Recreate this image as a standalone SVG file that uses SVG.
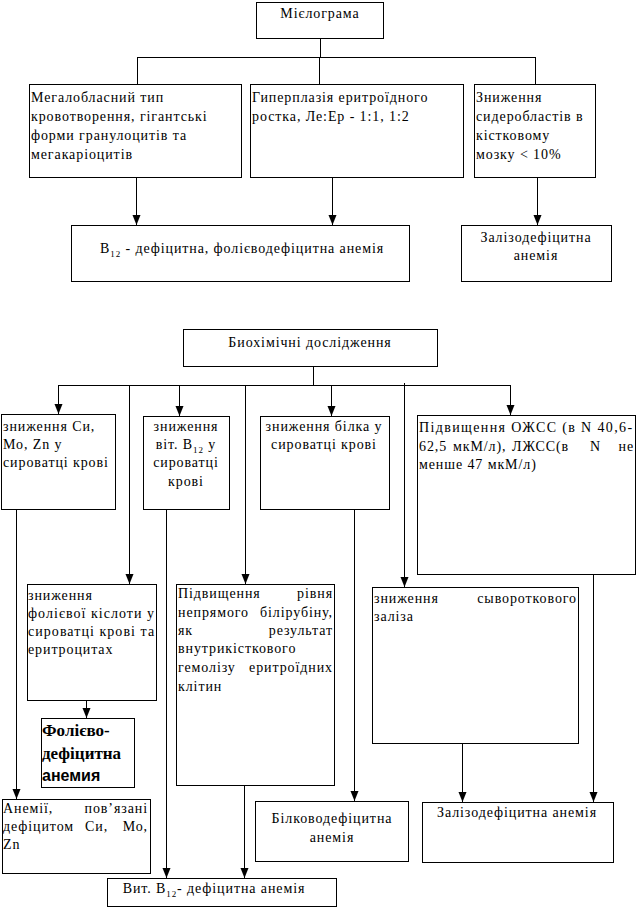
<svg xmlns="http://www.w3.org/2000/svg" width="637" height="908" viewBox="0 0 637 908">
<style>
rect{fill:#fff;stroke:#000;stroke-width:1}
.c path{fill:none;stroke:#000;stroke-width:1}
text{font-size:14px;fill:#000;letter-spacing:0.9px}
.m{text-anchor:middle}
.e{text-anchor:end}
.s{font-size:9px}
.b{font-weight:bold;font-size:17px;letter-spacing:0}
.bs{font-family:'Liberation Sans',Arial,sans-serif;font-weight:bold;font-size:16px;letter-spacing:0}
</style>
<defs>
<marker id="a" markerUnits="userSpaceOnUse" markerWidth="10" markerHeight="10" viewBox="0 0 10 10" refX="10" refY="5" orient="auto">
<path d="M0 1 L10 5 L0 9 Z" fill="#000"/>
</marker>
</defs>
<rect width="637" height="908" style="fill:#fff;stroke:none"/>

<g class="c">
<path d="M320.5 38 V57.5 M137.5 57.5 H535.5 M137.5 57 V84 M319.5 57 V84 M535.5 57 V84"/>
<path d="M136.5 177 V225" marker-end="url(#a)"/>
<path d="M332.5 177 V225" marker-end="url(#a)"/>
<path d="M537.5 177 V225" marker-end="url(#a)"/>
<path d="M313.5 366 V385.5 M58.5 385.5 H510.5"/>
<path d="M58.5 385 V414" marker-end="url(#a)"/>
<path d="M129.5 385 V584" marker-end="url(#a)"/>
<path d="M179.5 385 V416" marker-end="url(#a)"/>
<path d="M245.5 385 V584" marker-end="url(#a)"/>
<path d="M331.5 385 V416" marker-end="url(#a)"/>
<path d="M404.5 383 V587" marker-end="url(#a)"/>
<path d="M510.5 385 V415" marker-end="url(#a)"/>
<path d="M16.5 509 V799" marker-end="url(#a)"/>
<path d="M86.5 700 V718" marker-end="url(#a)"/>
<path d="M166.5 509 V878" marker-end="url(#a)"/>
<path d="M244.5 785 V878" marker-end="url(#a)"/>
<path d="M354.5 509 V801" marker-end="url(#a)"/>
<path d="M462.5 743 V802" marker-end="url(#a)"/>
<path d="M593.5 574 V802" marker-end="url(#a)"/>
</g>

<g font-family="Liberation Serif, Times New Roman, serif">
<g id="mielogram">
<rect x="256.5" y="2.5" width="127" height="36"/>
<text x="320" y="18" class="m">Мієлограма</text>
</g>
<g id="megaloblast">
<rect x="29.5" y="84.5" width="212" height="93"/>
<text x="31" y="102">Мегалобласний тип</text>
<text x="31" y="121">кровотворення, гігантські</text>
<text x="31" y="140">форми гранулоцитів та</text>
<text x="31" y="159">мегакаріоцитів</text>
</g>
<g id="hyperplasia">
<rect x="250.5" y="84.5" width="213" height="93"/>
<text x="252" y="102">Гиперплазія еритроїдного</text>
<text x="252" y="121">ростка, Ле:Ер - 1:1, 1:2</text>
</g>
<g id="siderob">
<rect x="474.5" y="84.5" width="121" height="93"/>
<text x="476" y="102">Зниження</text>
<text x="476" y="121">сидеробластів в</text>
<text x="476" y="140">кістковому</text>
<text x="476" y="159">мозку &lt; 10%</text>
</g>
<g id="b12fol">
<rect x="71.5" y="225.5" width="338" height="56"/>
<text x="100" y="253">B<tspan class="s" dy="4">12</tspan><tspan dy="-4"> - дефіцитна, фолієводефіцитна анемія</tspan></text>
</g>
<g id="iron1">
<rect x="461.5" y="225.5" width="150" height="56"/>
<text x="536" y="242" class="m">Залізодефіцитна</text>
<text x="536" y="260" class="m">анемія</text>
</g>

<g id="biochem">
<rect x="183.5" y="329.5" width="254" height="37"/>
<text x="310" y="347" class="m">Биохімічні дослідження</text>
</g>
<g id="cu">
<rect x="1.5" y="414.5" width="114" height="95"/>
<text x="3" y="431">зниження Си,</text>
<text x="3" y="449">Мо, Zn у</text>
<text x="3" y="467">сироватці крові</text>
</g>
<g id="vitb12">
<rect x="143.5" y="416.5" width="86" height="93"/>
<text x="186" y="431" class="m">зниження</text>
<text x="186" y="449" class="m">віт. B<tspan class="s" dy="4">12</tspan><tspan dy="-4"> у</tspan></text>
<text x="186" y="467" class="m">сироватці</text>
<text x="186" y="486" class="m">крові</text>
</g>
<g id="protein">
<rect x="260.5" y="416.5" width="129" height="93"/>
<text x="324" y="431" class="m">зниження білка у</text>
<text x="324" y="449" class="m">сироватці крові</text>
</g>
<g id="ozhss">
<rect x="417.5" y="415.5" width="218" height="159"/>
<text x="419" y="432" textLength="214" lengthAdjust="spacing">Підвищення ОЖСС (в N 40,6-</text>
<text x="419" y="451">62,5</text><text x="453" y="451">мкМ/л),</text><text x="512" y="451">ЛЖСС(в</text><text x="590" y="451">N</text><text x="634" y="451" class="e">не</text>
<text x="419" y="469">менше 47 мкМ/л)</text>
</g>
<g id="folic">
<rect x="27.5" y="584.5" width="129" height="116"/>
<text x="28" y="600">зниження</text>
<text x="28" y="618" textLength="127" lengthAdjust="spacing">фолієвої кіслоти у</text>
<text x="28" y="636" textLength="127" lengthAdjust="spacing">сироватці крові та</text>
<text x="28" y="654">еритроцитах</text>
</g>
<g id="bilirubin">
<rect x="176.5" y="584.5" width="158" height="201"/>
<text x="178" y="598">Підвищення</text><text x="333" y="598" class="e">рівня</text>
<text x="178" y="617">непрямого</text><text x="333" y="617" class="e">білірубіну,</text>
<text x="178" y="635">як</text><text x="333" y="635" class="e">результат</text>
<text x="178" y="653">внутрикісткового</text>
<text x="178" y="672">гемолізу</text><text x="333" y="672" class="e">еритроїдних</text>
<text x="178" y="691">клітин</text>
</g>
<g id="serumiron">
<rect x="372.5" y="587.5" width="206" height="156"/>
<text x="374" y="603">зниження</text><text x="577" y="603" class="e">сывороткового</text>
<text x="374" y="621">заліза</text>
</g>
<g id="folanemia">
<rect x="41.5" y="718.5" width="93" height="69"/>
<text x="42" y="736" class="b">Фолієво-</text>
<text x="42" y="759" class="b">дефіцитна</text>
<text x="42" y="781" class="bs">анемия</text>
</g>
<g id="cuanemia">
<rect x="2.5" y="799.5" width="148" height="74"/>
<text x="3" y="813">Анемії,</text><text x="148" y="813" class="e">пов’язані</text>
<text x="3" y="831">дефіцитом</text><text x="85" y="831">Си,</text><text x="148" y="831" class="e">Мо,</text>
<text x="3" y="849">Zn</text>
</g>
<g id="protanemia">
<rect x="255.5" y="801.5" width="153" height="60"/>
<text x="332" y="823" class="m">Білководефіцитна</text>
<text x="332" y="842" class="m">анемія</text>
</g>
<g id="iron2">
<rect x="422.5" y="802.5" width="191" height="60"/>
<text x="517" y="817" class="m">Залізодефіцитна анемія</text>
</g>
<g id="b12anemia">
<rect x="107.5" y="878.5" width="229" height="28"/>
<text x="214" y="893" class="m">Вит. B<tspan class="s" dy="4">12</tspan><tspan dy="-4">- дефіцитна анемія</tspan></text>
</g>
</g>
</svg>
